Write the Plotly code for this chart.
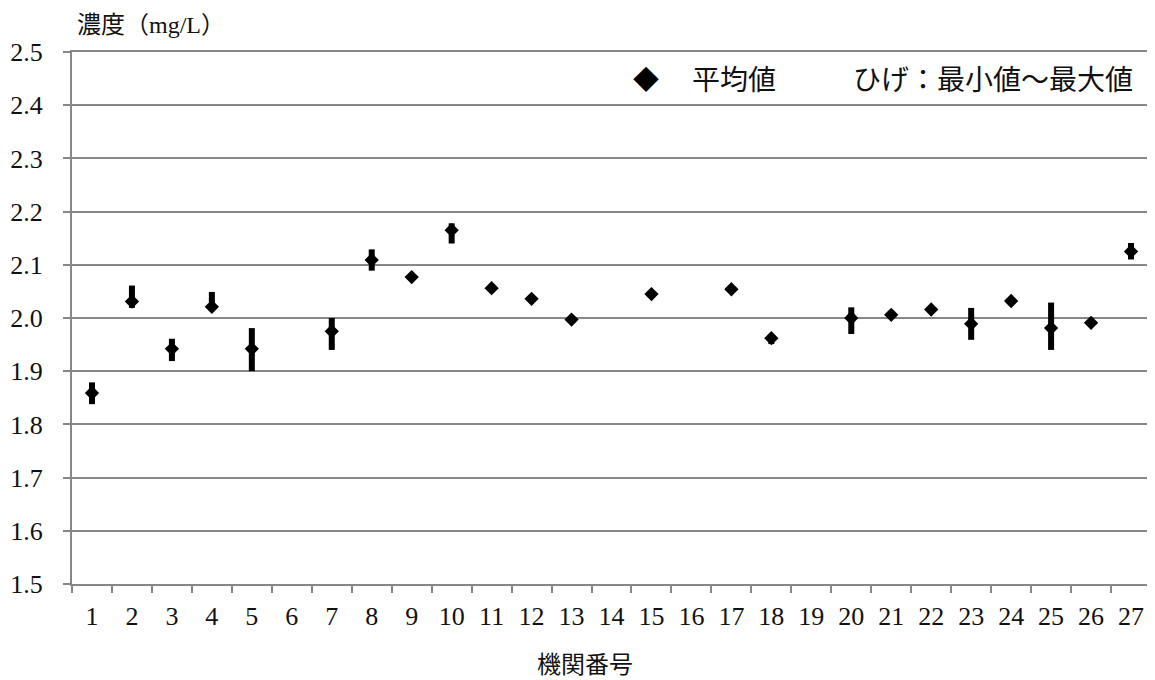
import plotly.graph_objects as go

categories = [str(i) for i in range(1, 28)]
means = [1.859, 2.031, 1.942, 2.021, 1.942, None, 1.975, 2.109, 2.077, 2.165,
         2.056, 2.036, 1.997, None, 2.045, None, 2.054, 1.962, None, 2.000,
         2.006, 2.016, 1.989, 2.032, 1.981, 1.991, 2.125]
mins = [1.838, 2.019, 1.919, 2.013, 1.900, None, 1.940, 2.089, 2.072, 2.140,
        2.052, 2.032, 1.993, None, 2.041, None, 2.050, 1.951, None, 1.970,
        2.002, 2.012, 1.959, 2.028, 1.940, 1.987, 2.110]
maxs = [1.879, 2.061, 1.961, 2.049, 1.981, None, 2.000, 2.129, 2.082, 2.178,
        2.060, 2.042, 2.001, None, 2.049, None, 2.058, 1.966, None, 2.020,
        2.010, 2.020, 2.019, 2.036, 2.029, 1.995, 2.141]

err_plus = [None if m is None else round(mx - m, 4) for m, mx in zip(means, maxs)]
err_minus = [None if m is None else round(m - mn, 4) for m, mn in zip(means, mins)]

serif = "Times New Roman, Liberation Serif, Noto Sans CJK JP"
grid_color = "#878787"

fig = go.Figure()
fig.add_trace(go.Scatter(
    x=categories, y=means, mode="markers",
    marker=dict(symbol="diamond", size=11, color="black"),
    error_y=dict(type="data", symmetric=False, array=err_plus, arrayminus=err_minus,
                 thickness=6, width=0, color="black"),
    showlegend=False, name="平均値",
))

fig.update_layout(
    width=1155, height=680,
    margin=dict(l=64, r=12, t=44, b=104),
    paper_bgcolor="white", plot_bgcolor="white",
    font=dict(family=serif, size=26, color="#111"),
    xaxis=dict(
        type="category", categoryorder="array", categoryarray=categories,
        range=[-0.5, 26.5], tickson="boundaries", ticks="outside", ticklen=7,
        tickwidth=2, tickcolor=grid_color, showline=True, linecolor=grid_color,
        linewidth=2, mirror=True, showgrid=False, automargin=False,
        tickfont=dict(size=26), ticklabelstandoff=8,
    ),
    yaxis=dict(
        range=[1.5, 2.5], dtick=0.1, tickformat=".1f", ticks="outside", ticklen=7,
        tickwidth=2, tickcolor=grid_color, showline=True, linecolor=grid_color,
        linewidth=2, mirror=True, showgrid=True, gridcolor=grid_color, gridwidth=2,
        zeroline=False, automargin=False, tickfont=dict(size=26),
        ticklabelstandoff=15,
    ),
    annotations=[
        dict(text="濃度（mg/L）", xref="paper", yref="paper", x=0.003, y=1.051,
             xanchor="left", yanchor="middle", showarrow=False,
             font=dict(size=24)),
        dict(text="機関番号", xref="paper", yref="paper", x=0.4754, y=-0.152,
             xanchor="center", yanchor="middle", showarrow=False,
             font=dict(size=24)),
        dict(text="◆", xref="paper", yref="paper", x=0.532, y=0.9455,
             xanchor="center", yanchor="middle", showarrow=False,
             font=dict(size=26, color="black")),
        dict(text="平均値", xref="paper", yref="paper", x=0.5727, y=0.9455,
             xanchor="left", yanchor="middle", showarrow=False,
             font=dict(size=28)),
        dict(text="ひげ：最小値～最大値", xref="paper", yref="paper", x=0.985, y=0.9455,
             xanchor="right", yanchor="middle", showarrow=False,
             font=dict(size=28)),
    ],
)

fig.write_html("out.html")
